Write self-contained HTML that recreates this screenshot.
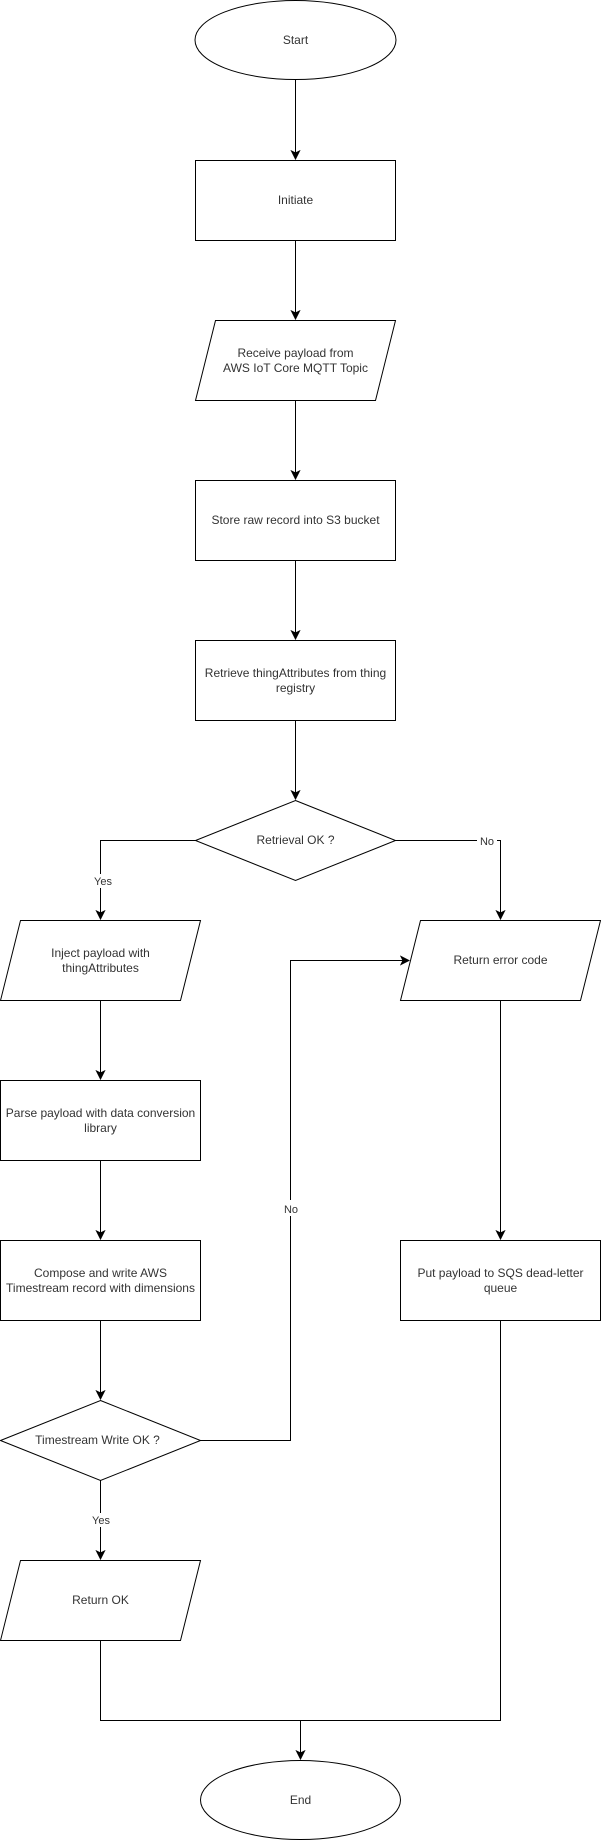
<!DOCTYPE html>
<html><head><meta charset="utf-8"><style>
html,body{margin:0;padding:0;background:#fff;}
svg{display:block;}
text{font-family:"Liberation Sans",Helvetica,Arial,sans-serif;font-size:12px;fill:#333;}
</style></head><body>
<svg width="601" height="1841" viewBox="0 0 601 1841" xmlns="http://www.w3.org/2000/svg">
<defs>
<marker id="a" markerWidth="10" markerHeight="10" refX="8" refY="5" orient="auto" markerUnits="userSpaceOnUse">
<path d="M1,1 L9,5 L1,9 L3,5 Z" fill="#000" stroke="#000"/>
</marker>
</defs>
<g fill="#fff" stroke="#000" stroke-width="1">
<ellipse cx="295.5" cy="40" rx="100.5" ry="39.5"/>
<rect x="195.5" y="160.5" width="200" height="80"/>
<polygon points="215.5,320.5 395.5,320.5 375.5,400.5 195.5,400.5"/>
<rect x="195.5" y="480.5" width="200" height="80"/>
<rect x="195.5" y="640.5" width="200" height="80"/>
<polygon points="295.5,800.5 395.5,840.5 295.5,880.5 195.5,840.5"/>
<polygon points="20.5,920.5 200.5,920.5 180.5,1000.5 0.5,1000.5"/>
<polygon points="420.5,920.5 600.5,920.5 580.5,1000.5 400.5,1000.5"/>
<rect x="0.5" y="1080.5" width="200" height="80"/>
<rect x="0.5" y="1240.5" width="200" height="80"/>
<rect x="400.5" y="1240.5" width="200" height="80"/>
<polygon points="100.5,1400.5 200.5,1440.5 100.5,1480.5 0.5,1440.5"/>
<polygon points="20.5,1560.5 200.5,1560.5 180.5,1640.5 0.5,1640.5"/>
<ellipse cx="300.5" cy="1800" rx="100" ry="39.5"/>
</g>
<g fill="none" stroke="#000" stroke-width="1">
<path d="M295.5,80 V158" marker-end="url(#a)"/>
<path d="M295.5,240.5 V318" marker-end="url(#a)"/>
<path d="M295.5,400.5 V478" marker-end="url(#a)"/>
<path d="M295.5,560.5 V638" marker-end="url(#a)"/>
<path d="M295.5,720.5 V798" marker-end="url(#a)"/>
<path d="M195.5,840.5 H100.5 V918" marker-end="url(#a)"/>
<path d="M395.5,840.5 H500.5 V918" marker-end="url(#a)"/>
<path d="M100.5,1000.5 V1078" marker-end="url(#a)"/>
<path d="M100.5,1160.5 V1238" marker-end="url(#a)"/>
<path d="M100.5,1320.5 V1398" marker-end="url(#a)"/>
<path d="M500.5,1000.5 V1238" marker-end="url(#a)"/>
<path d="M200.5,1440.5 H290.5 V960.5 H408" marker-end="url(#a)"/>
<path d="M100.5,1480.5 V1558" marker-end="url(#a)"/>
<path d="M100.5,1640.5 V1720.5 H500.5 V1320.5"/>
<path d="M300.5,1720.5 V1758" marker-end="url(#a)"/>
</g>
<g text-anchor="middle">
<text x="295.5" y="44">Start</text>
<text x="295.5" y="204">Initiate</text>
<text x="295.5" y="357">Receive payload from</text>
<text x="295.5" y="372">AWS IoT Core MQTT Topic</text>
<text x="295.5" y="524">Store raw record into S3 bucket</text>
<text x="295.5" y="677">Retrieve thingAttributes from thing</text>
<text x="295.5" y="692">registry</text>
<text x="295.5" y="844">Retrieval OK ?</text>
<rect x="88" y="874" width="26" height="14" fill="#fff"/>
<text x="103" y="885" style="font-size:11px">Yes</text>
<rect x="477" y="834" width="20" height="14" fill="#fff"/>
<text x="487" y="845" style="font-size:11px">No</text>
<text x="100.5" y="957">Inject payload with</text>
<text x="100.5" y="972">thingAttributes</text>
<text x="500.5" y="964">Return error code</text>
<text x="100.5" y="1117">Parse payload with data conversion</text>
<text x="100.5" y="1132">library</text>
<text x="100.5" y="1277">Compose and write AWS</text>
<text x="100.5" y="1292">Timestream record with dimensions</text>
<text x="500.5" y="1277">Put payload to SQS dead-letter</text>
<text x="500.5" y="1292">queue</text>
<rect x="280" y="1200" width="22" height="16" fill="#fff"/>
<text x="291" y="1213" style="font-size:11px">No</text>
<text x="97.5" y="1444">Timestream Write OK ?</text>
<rect x="88" y="1513" width="26" height="14" fill="#fff"/>
<text x="101" y="1524" style="font-size:11px">Yes</text>
<text x="100.5" y="1604">Return OK</text>
<text x="300.5" y="1804">End</text>
</g>
</svg>
</body></html>
